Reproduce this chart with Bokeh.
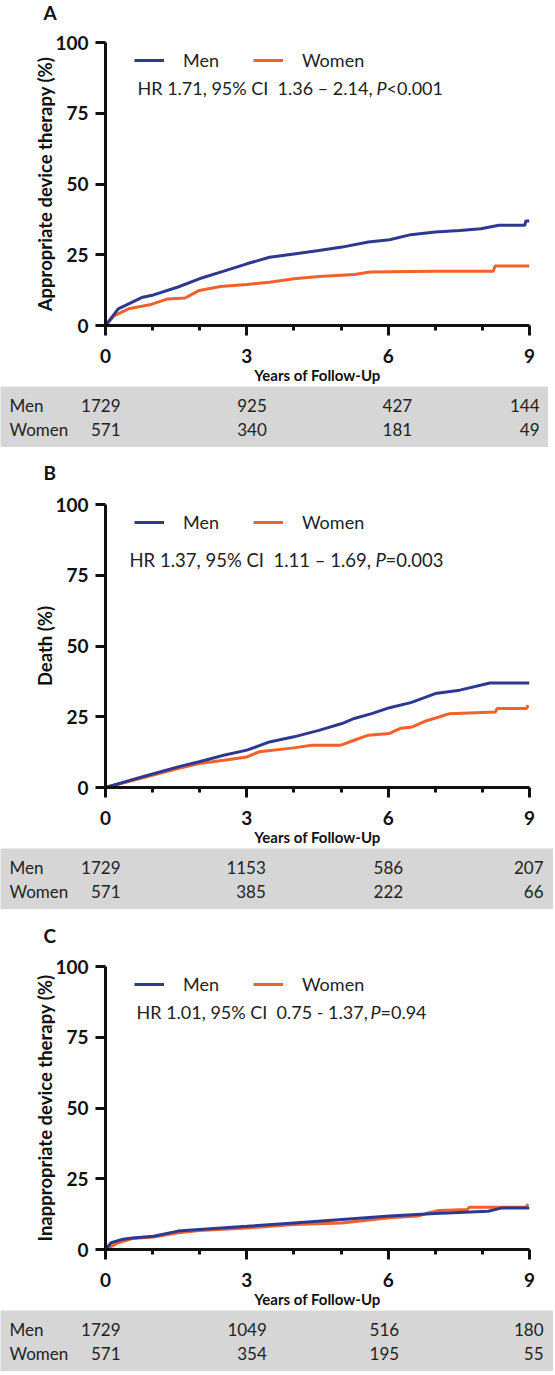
from bokeh.plotting import figure
from bokeh.models import Range1d, FixedTicker, Legend, LegendItem, Label, ColumnDataSource
from bokeh.layouts import column
from bokeh.embed import file_html
from bokeh.resources import INLINE
from bokeh.core.properties import value

# ---------------- data ----------------
year_ticks = [0, 3, 6, 9]
year_minor = [1, 2, 4, 5, 7, 8]
pct_ticks = [0, 25, 50, 75, 100]
groups = ["Men", "Women"]

# Panel A: appropriate device therapy (cumulative %)
a_men_t = [0, 0.27, 0.79, 1.02, 1.54, 1.99, 2.51, 3.0, 3.48, 4.0, 4.53, 5.02, 5.58, 6.03, 6.48, 7.0, 7.52, 7.97, 8.35, 8.9, 8.92, 9.0]
a_men_y = [0, 5.9, 10.0, 10.8, 13.6, 16.5, 19.2, 21.8, 24.1, 25.3, 26.5, 27.7, 29.5, 30.3, 32.1, 33.0, 33.6, 34.2, 35.4, 35.4, 36.9, 36.9]
a_women_t = [0, 0.19, 0.49, 0.94, 1.32, 1.69, 1.99, 2.44, 3.0, 3.48, 4.0, 4.53, 5.28, 5.62, 7.0, 8.23, 8.27, 9.0]
a_women_y = [0, 3.5, 5.9, 7.3, 9.4, 9.7, 12.4, 13.8, 14.5, 15.3, 16.5, 17.3, 18.0, 18.9, 19.2, 19.2, 21.0, 21.0]
a_risk_men = [1729, 925, 427, 144]
a_risk_women = [571, 340, 181, 49]

# Panel B: death (cumulative %)
b_men_t = [0, 0.79, 1.54, 1.99, 2.51, 3.0, 3.48, 4.0, 4.53, 5.02, 5.28, 5.65, 6.03, 6.48, 7.0, 7.52, 8.16, 9.0]
b_men_y = [0, 3.8, 7.3, 9.1, 11.4, 13.2, 16.1, 17.9, 20.2, 22.6, 24.4, 26.1, 28.2, 30.0, 33.2, 34.4, 36.9, 36.9]
b_women_t = [0, 0.79, 1.54, 1.99, 2.51, 3.0, 3.26, 4.0, 4.38, 4.98, 5.28, 5.58, 6.03, 6.26, 6.51, 6.78, 7.08, 7.30, 8.28, 8.31, 8.94, 8.97]
b_women_y = [0, 3.4, 6.7, 8.5, 9.6, 10.8, 12.6, 14.0, 14.9, 14.9, 16.7, 18.5, 19.1, 20.9, 21.4, 23.4, 24.9, 26.1, 26.7, 27.9, 27.9, 29.1]
b_risk_men = [1729, 1153, 586, 207]
b_risk_women = [571, 385, 222, 66]

# Panel C: inappropriate device therapy (cumulative %)
c_men_t = [0, 0.12, 0.34, 0.57, 1.02, 1.54, 1.99, 3.0, 4.0, 5.02, 6.03, 7.0, 8.12, 8.42, 9.0]
c_men_y = [0, 2.4, 3.5, 4.1, 4.7, 6.5, 7.1, 8.2, 9.4, 10.6, 11.8, 12.7, 13.5, 14.7, 14.7]
c_women_t = [0, 0.27, 0.57, 1.02, 1.54, 1.99, 3.0, 4.0, 5.02, 6.03, 6.63, 6.85, 7.08, 7.68, 7.72, 8.94, 8.96]
c_women_y = [0, 2.4, 3.9, 4.4, 5.9, 6.7, 7.6, 8.8, 9.4, 11.2, 11.8, 12.9, 13.8, 14.1, 14.9, 14.9, 16.1]
c_risk_men = [1729, 1049, 516, 180]
c_risk_women = [571, 354, 195, 55]

# ---------------- style ----------------
MEN_COLOR = "#2d3991"
WOMEN_COLOR = "#f0622a"
AXIS_COLOR = "#111111"
TEXT_COLOR = "#222222"
BAND_COLOR = "#d6d6d6"
FONT = "Lato"
FIG_W = 555
LEFT = 105
FRAME_W = 424
TOP = 14
BAND_H = 61
LEG_GLYPH = 30
LEG_STANDOFF = 19
LEG_MEN_X = 29        # px from frame left to the Men swatch
LEG_WOMEN_X = 148     # px from frame left to the Women swatch
LEG_TOP = 6           # px from frame top to legend row
LEG_ROW_H = 24


def letter_fig(letter, h, cy):
    f = figure(width=90, height=h, x_range=Range1d(0, 90), y_range=Range1d(0, h),
               output_backend="svg", toolbar_location=None, frame_align=False,
               min_border=0, min_border_left=0, min_border_right=0,
               min_border_top=0, min_border_bottom=0,
               x_axis_type=None, y_axis_type=None)
    f.outline_line_color = None
    f.grid.grid_line_color = None
    f.text(x=[43], y=[h - cy], text=[letter], text_align="left", text_baseline="middle",
           text_font=value(FONT), text_font_style="bold", text_font_size=value("19px"),
           text_color=AXIS_COLOR)
    return f


def legend_box(label, renderer, location, label_w):
    return Legend(items=[LegendItem(label=label, renderers=[renderer])],
                  location=location, orientation="horizontal",
                  glyph_width=LEG_GLYPH, glyph_height=LEG_ROW_H, label_height=LEG_ROW_H,
                  label_width=label_w, label_standoff=LEG_STANDOFF, spacing=0,
                  padding=0, margin=LEG_TOP,
                  border_line_color=None, background_fill_alpha=0,
                  label_text_font=FONT, label_text_font_size="18px",
                  label_text_color=TEXT_COLOR, label_text_baseline="middle")


def make_panel(letter, letter_h, letter_cy, ylabel, men_t, men_y, women_t, women_y,
               hr_parts, hr_size, risk_men, risk_women, frame_h, band_w, hr_pos, num_dx):
    lf = letter_fig(letter, letter_h, letter_cy)

    p = figure(width=FIG_W, height=TOP + frame_h + BAND_H,
               x_range=Range1d(0, 9), y_range=Range1d(0, 100),
               output_backend="svg", toolbar_location=None,
               min_border_left=LEFT, min_border_right=FIG_W - LEFT - FRAME_W,
               min_border_top=TOP, min_border_bottom=BAND_H)
    p.outline_line_color = None
    p.grid.grid_line_color = None

    rw = p.line(women_t, women_y, line_width=3, color=WOMEN_COLOR)
    rm = p.line(men_t, men_y, line_width=3, color=MEN_COLOR)

    for ax in (p.xaxis[0], p.yaxis[0]):
        ax.axis_line_width = 3
        ax.axis_line_color = AXIS_COLOR
        ax.major_tick_line_width = 3
        ax.major_tick_line_color = AXIS_COLOR
        ax.major_tick_in = 0
        ax.major_tick_out = 10
        ax.major_label_text_font = FONT
        ax.major_label_text_font_style = "bold"
        ax.major_label_text_font_size = "19px"
        ax.major_label_text_color = AXIS_COLOR
        ax.axis_label_text_font = FONT
        ax.axis_label_text_font_style = "bold"
        ax.axis_label_text_color = AXIS_COLOR

    xa = p.xaxis[0]
    xa.ticker = FixedTicker(ticks=year_ticks, minor_ticks=year_minor)
    xa.minor_tick_in = 0
    xa.minor_tick_out = 5
    xa.minor_tick_line_width = 3
    xa.minor_tick_line_color = AXIS_COLOR
    xa.major_label_standoff = 13
    xa.axis_label = "Years of Follow-Up"
    xa.axis_label_text_font_size = "15px"
    xa.axis_label_standoff = 0

    ya = p.yaxis[0]
    ya.ticker = FixedTicker(ticks=pct_ticks)
    ya.minor_tick_line_color = None
    ya.major_label_standoff = 7
    ya.axis_label = ylabel
    ya.axis_label_text_font_size = "18.5px"
    ya.axis_label_standoff = -4

    # legend: Men row via top_center, Women anchored from the right
    men_label_w = FRAME_W - 2 * LEG_MEN_X - LEG_GLYPH - LEG_STANDOFF
    women_label_w = FRAME_W - LEG_TOP - LEG_WOMEN_X - LEG_GLYPH - LEG_STANDOFF
    p.add_layout(legend_box(groups[0], rm, "top_center", men_label_w), "center")
    p.add_layout(legend_box(groups[1], rw, "top_right", women_label_w), "center")

    hx, hdy, px = hr_pos
    p.add_layout(Label(x=0, y=100, x_offset=hx, y_offset=-hdy, text=hr_parts[0],
                       text_font=FONT, text_font_size=hr_size, text_baseline="middle",
                       text_color=TEXT_COLOR))
    p.add_layout(Label(x=0, y=100, x_offset=px, y_offset=-hdy, text=hr_parts[1],
                       text_font=FONT, text_font_size=hr_size, text_font_style="italic",
                       text_baseline="middle", text_color=TEXT_COLOR))
    p.add_layout(Label(x=0, y=100, x_offset=px + 10, y_offset=-hdy, text=hr_parts[2],
                       text_font=FONT, text_font_size=hr_size, text_baseline="middle",
                       text_color=TEXT_COLOR))

    # number-at-risk band
    ppy = FRAME_W / 9.0
    x0 = -(LEFT) / ppy
    x1 = 9 + (band_w - LEFT - FRAME_W) / ppy
    t = figure(width=band_w, height=BAND_H, x_range=Range1d(x0, x1), y_range=Range1d(-0.75, 1.79),
               output_backend="svg", toolbar_location=None, frame_align=False,
               min_border=0, min_border_left=0, min_border_right=0,
               min_border_top=0, min_border_bottom=0,
               x_axis_type=None, y_axis_type=None)
    t.outline_line_color = None
    t.grid.grid_line_color = None
    t.background_fill_color = BAND_COLOR
    t.border_fill_color = BAND_COLOR

    src = ColumnDataSource(dict(
        x=year_ticks + year_ticks,
        y=[1] * len(year_ticks) + [0] * len(year_ticks),
        txt=[str(v) for v in risk_men] + [str(v) for v in risk_women],
        dx=num_dx + num_dx,
    ))
    t.text(x="x", y="y", text="txt", x_offset="dx", source=src,
           text_align="right", text_baseline="middle",
           text_font=value(FONT), text_font_size=value("17px"), text_color=TEXT_COLOR)
    t.text(x=[x0, x0], y=[1, 0], text=groups, x_offset=9,
           text_align="left", text_baseline="middle",
           text_font=value(FONT), text_font_size=value("17px"), text_color=TEXT_COLOR)
    return [lf, p, t]


NB = "\u00a0"
panels = []
panels += make_panel("A", 28, 12, "Appropriate device therapy (%)",
                     a_men_t, a_men_y, a_women_t, a_women_y,
                     ["HR 1.71, 95% CI" + NB + " 1.36 \u2013 2.14,", "P", "<0.001"], "18px",
                     a_risk_men, a_risk_women, frame_h=283, band_w=548,
                     hr_pos=(32, 45, 271), num_dx=[15, 20, 24, 10])
panels += make_panel("B", 43, 25, "Death (%)",
                     b_men_t, b_men_y, b_women_t, b_women_y,
                     ["HR 1.37, 95% CI" + NB + " 1.11 \u2013 1.69,", "P", "=0.003"], "18.5px",
                     b_risk_men, b_risk_women, frame_h=283, band_w=553,
                     hr_pos=(24, 55, 270), num_dx=[15, 19, 15, 14])
panels += make_panel("C", 43, 26, "Inappropriate device therapy (%)",
                     c_men_t, c_men_y, c_women_t, c_women_y,
                     ["HR 1.01, 95% CI" + NB + " 0.75 - 1.37,", "P", "=0.94"], "18px",
                     c_risk_men, c_risk_women, frame_h=283, band_w=553,
                     hr_pos=(31, 45, 265), num_dx=[15, 20, 11, 14])

layout = column(*panels, spacing=0)
open("out.html", "w").write(file_html(layout, INLINE))
